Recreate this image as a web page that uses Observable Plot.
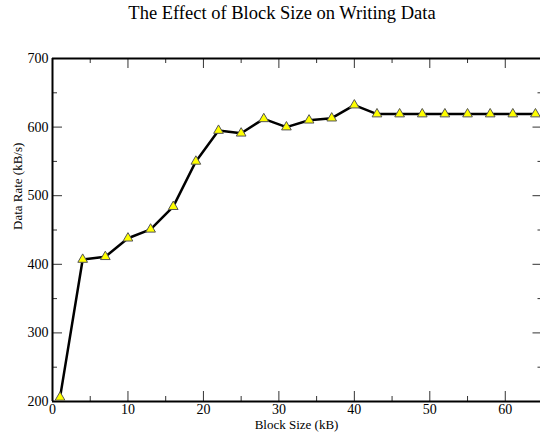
<!DOCTYPE html>
<html>
<head>
<meta charset="utf-8">
<script src="https://cdn.jsdelivr.net/npm/d3@7"></script>
<script src="https://cdn.jsdelivr.net/npm/@observablehq/plot@0.6"></script>
<style>
  html, body { margin: 0; padding: 0; background: #fff; }
  #wrap { width: 540px; height: 434px; overflow: hidden; position: relative; }
  #title { height: 40px; box-sizing: border-box; padding-top: 2px; padding-left: 24px; text-align: center;
           font-family: "Liberation Serif", "Times New Roman", serif; font-size: 18.5px; line-height: 22px; color: #000; }
  #chart svg, #chart svg text { font-family: "Liberation Serif", "Times New Roman", serif !important; }
  #chart { line-height: 0; }
</style>
</head>
<body>
<div id="wrap">
  <div id="title">The Effect of Block Size on Writing Data</div>
  <div id="chart"></div>
</div>
<script>
const blockSize = [1, 4, 7, 10, 13, 16, 19, 22, 25, 28, 31, 34, 37, 40, 43, 46, 49, 52, 55, 58, 61, 64];
const dataRate  = [206, 407, 411, 438, 451, 484, 550, 595, 591, 612, 600, 610, 613, 632, 619, 619, 619, 619, 619, 619, 619, 619];
const xMajorTicks = [0, 10, 20, 30, 40, 50, 60];
const xMinorTicks = [5, 15, 25, 35, 45, 55];
const yMajorTicks = [200, 300, 400, 500, 600, 700];
const yMinorTicks = [250, 350, 450, 550, 650];
const xLabel = "Block Size (kB)";
const yLabel = "Data Rate (kB/s)";

const data = blockSize.map((x, i) => ({x, y: dataRate[i]}));
const font = '"Liberation Serif", "Times New Roman", serif';

const W = 540, H = 394, mL = 52, mR = 0, mT = 18, mB = 33;
const fw = W - mL - mR, fh = H - mT - mB;
const major = 10, minor = 5;
const inner = xMajorTicks.filter(d => d > 0);
const innerY = yMajorTicks.filter(d => d > 200 && d < 700);

const chart = Plot.plot({
  width: W, height: H,
  marginLeft: mL, marginRight: mR, marginTop: mT, marginBottom: mB,
  style: {fontFamily: font, background: "#fff", color: "#000"},
  x: {domain: [0, 65], range: [52, 542.5]},
  y: {domain: [200, 700]},
  marks: [
    // ticks (inward, mirrored)
    Plot.ruleX(inner, {insetTop: fh - major, stroke: "#333"}),
    Plot.ruleX(xMinorTicks, {insetTop: fh - minor, stroke: "#333"}),
    Plot.ruleX(inner, {insetBottom: fh - major, stroke: "#333"}),
    Plot.ruleX(xMinorTicks, {insetBottom: fh - minor, stroke: "#333"}),
    Plot.ruleY(innerY, {insetRight: fw - major, stroke: "#333"}),
    Plot.ruleY(yMinorTicks, {insetRight: fw - minor, stroke: "#333"}),
    Plot.ruleY(innerY, {insetLeft: fw - 7.5, stroke: "#333"}),
    Plot.ruleY(yMinorTicks, {insetLeft: fw - 2.5, stroke: "#333"}),
    // frame
    Plot.ruleX([0], {stroke: "#000", strokeWidth: 2}),
    Plot.ruleY([200, 700], {stroke: "#000", strokeWidth: 2}),
    // tick labels
    Plot.axisX({ticks: xMajorTicks, tickSize: 0, tickPadding: 3, fontSize: 14, fontFamily: font, label: null, fill: "#000"}),
    Plot.axisY({ticks: yMajorTicks, tickSize: 0, tickPadding: 4, fontSize: 14, fontFamily: font, label: null, fill: "#000"}),
    // axis titles
    Plot.text([xLabel], {frameAnchor: "bottom", dy: 23, fontSize: 13, fontFamily: font, lineAnchor: "middle", fill: "#000"}),
    Plot.text([yLabel], {frameAnchor: "left", dx: -35, rotate: -90, fontSize: 13, fontFamily: font, fill: "#000"}),
    // data
    Plot.line(data, {x: "x", y: "y", stroke: "#000", strokeWidth: 2.5}),
    Plot.dot(data, {x: "x", y: "y", symbol: "triangle", r: 3.6, fill: "#ffff00", stroke: "#555", strokeWidth: 1})
  ]
});
document.getElementById("chart").appendChild(chart);
</script>
</body>
</html>
